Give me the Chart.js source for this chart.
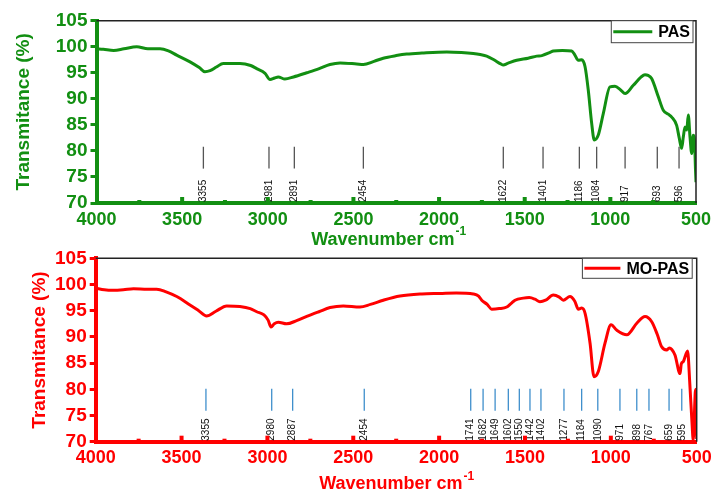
<!DOCTYPE html>
<html>
<head>
<meta charset="utf-8">
<script src="https://cdn.jsdelivr.net/npm/chart.js@4.4.1/dist/chart.umd.min.js"></script>
<style>
  body { margin: 0; background: #fff; }
  #wrap { position: relative; width: 711px; height: 492px; }
  #c1 { position: absolute; left: 0; top: 0; }
  #c2 { position: absolute; left: 0; top: 250px; }
</style>
</head>
<body>
<div id="wrap">
  <canvas id="c1" width="711" height="250"></canvas>
  <canvas id="c2" width="711" height="242"></canvas>
</div>
<script>
// DATOS - espectro PAS
const pasNumeroOnda = [4000, 3960, 3900, 3840, 3765, 3700, 3629, 3580, 3532, 3454, 3400, 3367, 3337, 3300, 3260, 3162, 3100, 3065, 3016, 2987, 2960, 2939, 2900, 2850, 2773, 2700, 2637, 2578, 2481, 2442, 2380, 2326, 2250, 2189, 2100, 1955, 1870, 1800, 1760, 1722, 1680, 1640, 1625, 1600, 1547, 1480, 1430, 1400, 1352, 1333, 1280, 1226, 1207, 1187, 1167, 1148, 1129, 1109, 1094, 1071, 1041, 1002, 973, 940, 914, 866, 820, 798, 780, 759, 720, 691, 660, 642, 613, 598, 584, 574, 564, 554, 545, 535, 525, 516, 508, 503, 500];
const pasTransmitancia = [99.6, 99.5, 99.3, 99.6, 100.0, 99.6, 99.6, 99.2, 98.4, 97.1, 96.0, 95.2, 95.4, 96.1, 96.8, 96.8, 96.4, 95.8, 94.9, 93.7, 94.0, 94.2, 93.8, 94.2, 95.0, 95.8, 96.6, 96.9, 96.7, 96.6, 97.2, 97.8, 98.3, 98.6, 98.8, 99.0, 98.9, 98.7, 98.5, 98.2, 97.5, 96.7, 96.5, 96.8, 97.4, 97.8, 98.2, 98.3, 98.9, 99.2, 99.3, 99.2, 98.4, 97.4, 97.5, 96.2, 91.7, 85.3, 82.1, 83.0, 87.2, 92.3, 92.4, 91.7, 91.0, 92.6, 94.2, 94.6, 94.5, 93.9, 90.4, 87.8, 87.0, 86.5, 84.9, 82.5, 80.5, 82.7, 84.6, 84.0, 86.9, 82.7, 79.5, 83.0, 81.5, 76.5, 74.0];

// DATOS - espectro MO-PAS
const moNumeroOnda = [4000, 3950, 3900, 3839, 3780, 3700, 3645, 3590, 3528, 3451, 3400, 3354, 3300, 3237, 3160, 3100, 3062, 3020, 2996, 2979, 2960, 2937, 2888, 2830, 2771, 2700, 2635, 2558, 2461, 2400, 2325, 2228, 2100, 1995, 1900, 1801, 1770, 1752, 1720, 1694, 1650, 1606, 1580, 1558, 1510, 1475, 1442, 1413, 1380, 1335, 1300, 1277, 1238, 1210, 1189, 1170, 1150, 1121, 1098, 1073, 1034, 999, 966, 907, 849, 801, 762, 730, 704, 675, 660, 645, 626, 597, 590, 578, 553, 540, 528, 520, 508, 503, 500];
const moTransmitancia = [99.3, 99.0, 98.9, 99.0, 99.2, 99.1, 99.1, 98.6, 97.7, 96.1, 95.0, 94.0, 94.9, 95.9, 95.8, 95.4, 94.8, 94.2, 93.2, 91.9, 92.5, 92.8, 92.5, 93.1, 93.9, 94.8, 95.6, 95.9, 95.7, 96.2, 97.0, 97.8, 98.2, 98.3, 98.4, 98.2, 97.8, 97.0, 96.2, 95.3, 95.4, 95.7, 96.4, 97.0, 97.4, 97.5, 97.2, 96.7, 97.0, 98.0, 97.6, 97.0, 97.7, 96.8, 95.3, 95.5, 94.5, 88.8, 82.4, 83.4, 88.8, 92.3, 91.3, 90.4, 92.6, 93.9, 92.9, 90.5, 88.1, 87.5, 87.9, 87.6, 86.5, 83.0, 84.8, 85.3, 87.3, 81.0, 74.0, 70.3, 79.5, 80.0, 70.5];

// Picos marcados (etiqueta y posicion dibujada)
const pasPicos = ['3355', '2981', '2891', '2454', '1622', '1401', '1186', '1084', '917', '693', '596'];
const pasPicosPos = [3376, 2993, 2845, 2442, 1625, 1393, 1181, 1080, 914, 726, 599];
const moPicos = ['3355', '2980', '2887', '2454', '1741', '1682', '1649', '1602', '1550', '1442', '1402', '1277', '1184', '1090', '971', '898', '767', '659', '595'];
const moPicosPos = [3358, 2975, 2853, 2436, 1816, 1744, 1674, 1597, 1533, 1471, 1407, 1273, 1170, 1076, 947, 849, 778, 661, 587];

const VERDE = '#128f12';
const ROJO = '#ff0000';
const FUENTE = '"Liberation Sans", Arial, sans-serif';

const decoPlugin = {
  id: 'deco',
  beforeDatasetsDraw(chart, args, o) {
    const { ctx, chartArea: a, scales: { x, y } } = chart;
    ctx.save();
    // marcas de picos
    o.picosPos.forEach((p, i) => {
      const px = x.getPixelForValue(p);
      ctx.strokeStyle = o.colorPico;
      ctx.lineWidth = 1.3;
      ctx.beginPath();
      ctx.moveTo(px, y.getPixelForValue(o.picoArriba));
      ctx.lineTo(px, y.getPixelForValue(o.picoAbajo));
      ctx.stroke();
      ctx.save();
      ctx.translate(px, a.bottom - 1);
      ctx.rotate(-Math.PI / 2);
      ctx.fillStyle = '#111';
      ctx.font = '10px ' + FUENTE;
      ctx.textAlign = 'left';
      ctx.textBaseline = 'middle';
      ctx.fillText(o.picos[i], 0, 0);
      ctx.restore();
    });
    // ticks hacia dentro en el eje x
    ctx.fillStyle = o.color;
    for (let v = 750; v < 4000; v += 250) {
      const px = x.getPixelForValue(v);
      const h = v % 500 === 0 ? 6 : 3;
      ctx.fillRect(px - 2, a.bottom - h, 4, h);
    }
    ctx.restore();
  },
  afterDraw(chart, args, o) {
    const { ctx, chartArea: a } = chart;
    const ds = chart.data.datasets[0];
    ctx.save();
    // borde superior y derecho
    ctx.strokeStyle = '#222';
    ctx.lineWidth = 1.5;
    ctx.beginPath();
    ctx.moveTo(a.left, a.top);
    ctx.lineTo(a.right, a.top);
    ctx.lineTo(a.right, a.bottom);
    ctx.stroke();
    // leyenda con marco
    ctx.font = 'bold 16px ' + FUENTE;
    const tw = ctx.measureText(ds.label).width;
    const bw = 3 + o.largoLeyenda + 5 + tw + 3;
    const bx = a.right - o.leyendaDx - bw;
    const by = a.top;
    const bh = o.altoLeyenda;
    ctx.fillStyle = '#fff';
    ctx.fillRect(bx, by, bw, bh);
    ctx.strokeStyle = '#444';
    ctx.lineWidth = 1;
    ctx.strokeRect(bx, by, bw, bh);
    ctx.strokeStyle = ds.borderColor;
    ctx.lineWidth = 3;
    ctx.beginPath();
    ctx.moveTo(bx + 2, by + bh / 2);
    ctx.lineTo(bx + 2 + o.largoLeyenda, by + bh / 2);
    ctx.stroke();
    ctx.fillStyle = '#000';
    ctx.textBaseline = 'middle';
    ctx.textAlign = 'left';
    ctx.fillText(ds.label, bx + 3 + o.largoLeyenda + 5, by + bh / 2 + 1);
    // titulo eje x con superindice
    const main = 'Wavenumber cm';
    const sup = '-1';
    ctx.fillStyle = o.color;
    ctx.font = 'bold 18px ' + FUENTE;
    const w1 = ctx.measureText(main).width;
    ctx.font = 'bold 12px ' + FUENTE;
    const w2 = ctx.measureText(sup).width;
    const sx = (a.left + a.right) / 2 - (w1 + w2) / 2 + o.tituloDx;
    const ty = a.bottom + o.tituloDy;
    ctx.font = 'bold 18px ' + FUENTE;
    ctx.fillText(main, sx, ty);
    ctx.font = 'bold 12px ' + FUENTE;
    ctx.fillText(sup, sx + w1 + 1, ty - 8);
    ctx.restore();
  }
};

function crearEspectro(id, cfg) {
  return new Chart(document.getElementById(id), {
    type: 'line',
    data: {
      datasets: [{
        label: cfg.nombre,
        data: cfg.ondas.map((w, i) => ({ x: w, y: cfg.valores[i] })),
        borderColor: cfg.color,
        backgroundColor: cfg.color,
        borderWidth: 3,
        pointRadius: 0,
        cubicInterpolationMode: 'monotone',
        fill: false
      }]
    },
    options: {
      responsive: false,
      animation: false,
      devicePixelRatio: 1,
      layout: { padding: { top: cfg.padTop, right: cfg.padRight, left: 0, bottom: 0 } },
      scales: {
        x: {
          type: 'linear',
          reverse: true,
          min: 500,
          max: 4000,
          afterFit: s => { s.height = cfg.altoX; s.paddingLeft = 0; s.paddingRight = 0; },
          grid: { display: true, drawOnChartArea: false, drawTicks: false },
          border: { color: cfg.color, width: 4 },
          ticks: {
            stepSize: 500,
            autoSkip: false,
            maxRotation: 0,
            padding: 6,
            format: { useGrouping: false },
            color: cfg.color,
            font: { family: FUENTE, size: 18, weight: 'bold' }
          }
        },
        y: {
          min: 70,
          max: 105,
          afterFit: s => { s.width = cfg.anchoY; s.paddingTop = 0; s.paddingBottom = 0; },
          grid: { drawOnChartArea: false, tickLength: 6, tickWidth: 3, tickColor: cfg.color },
          border: { color: cfg.color, width: 4 },
          ticks: {
            stepSize: 5,
            autoSkip: false,
            padding: 3,
            color: cfg.color,
            font: { family: FUENTE, size: 19, weight: 'bold' }
          },
          title: {
            display: true,
            text: 'Transmitance (%)',
            color: cfg.color,
            padding: { top: cfg.padTituloY, bottom: 0 },
            font: { family: FUENTE, size: 19, weight: 'bold' }
          }
        }
      },
      plugins: {
        legend: { display: false },
        tooltip: { enabled: false },
        deco: {
          color: cfg.color,
          colorPico: cfg.colorPico,
          picos: cfg.picos,
          picosPos: cfg.picosPos,
          picoArriba: cfg.picoArriba,
          picoAbajo: cfg.picoAbajo,
          tituloDx: cfg.tituloDx,
          tituloDy: cfg.tituloDy,
          largoLeyenda: cfg.largoLeyenda,
          altoLeyenda: cfg.altoLeyenda,
          leyendaDx: cfg.leyendaDx
        }
      }
    },
    plugins: [decoPlugin]
  });
}

crearEspectro('c1', {
  nombre: 'PAS', ondas: pasNumeroOnda, valores: pasTransmitancia, color: VERDE,
  colorPico: '#555', picos: pasPicos, picosPos: pasPicosPos, picoArriba: 80.8, picoAbajo: 76.6,
  padTop: 20.7, padRight: 15, anchoY: 96.5, altoX: 47, padTituloY: 12.6, tituloDx: -8, tituloDy: 37,
  largoLeyenda: 39, altoLeyenda: 22, leyendaDx: 3
});

crearEspectro('c2', {
  nombre: 'MO-PAS', ondas: moNumeroOnda, valores: moTransmitancia, color: ROJO,
  colorPico: '#3f8fcc', picos: moPicos, picosPos: moPicosPos, picoArriba: 80.1, picoAbajo: 75.9,
  padTop: 8.3, padRight: 14.3, anchoY: 95.7, altoX: 50.3, padTituloY: 28.6, tituloDx: 0, tituloDy: 42.5,
  largoLeyenda: 36, altoLeyenda: 20, leyendaDx: 4.5
});
</script>
</body>
</html>
